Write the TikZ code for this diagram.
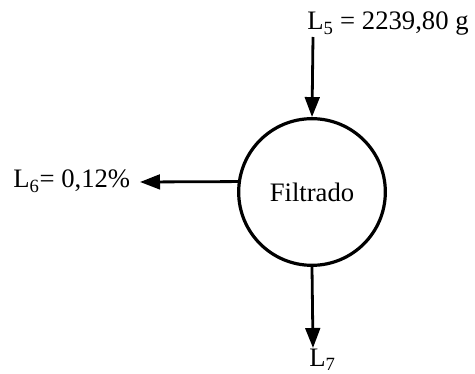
\documentclass[tikz,border=0pt]{standalone}
\usepackage{fontspec}
\setmainfont{Liberation Serif}
\usetikzlibrary{arrows.meta}

\begin{document}
\begin{tikzpicture}[x=0.75pt,y=-0.75pt,
    proceso/.style={draw, circle, line width=2.4pt, minimum size=110pt, inner sep=0pt},
    flujo/.style={line width=2.1pt, -{Triangle[length=15pt,width=11pt]}},
    etiqueta/.style={font=\fontsize{20}{24}\selectfont, inner sep=0pt}]
  \useasboundingbox (0,0) rectangle (475,374);
  \node[proceso, font=\fontsize{20}{24}\selectfont] (filtro) at (312,192) {Filtrado};
  % entrada
  \coordinate (in5) at (313,37);
  \node[etiqueta, anchor=base west] (l5) at (307,30) {L\textsubscript{5} = 2239,80 g};
  \draw[flujo] (in5) -- (filtro.north);
  % salidas
  \node[etiqueta, anchor=base west] (l6) at (13,188) {L\textsubscript{6}= 0,12\%};
  \coordinate (out6) at (140,182);
  \draw[flujo] (filtro.172) -- (out6);
  \node[etiqueta, anchor=base west] (l7) at (309,366) {L\textsubscript{7}};
  \coordinate (out7) at (313,348);
  \draw[flujo] (filtro.south) -- (out7);
\end{tikzpicture}
\end{document}
